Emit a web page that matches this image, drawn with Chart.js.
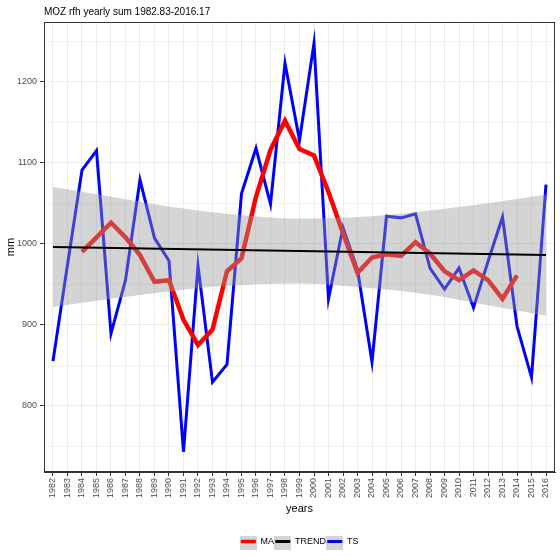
<!DOCTYPE html>
<html>
<head>
<meta charset="utf-8">
<script src="https://cdn.jsdelivr.net/npm/chart.js@4/dist/chart.umd.min.js"></script>
<style>
  html, body { margin: 0; padding: 0; background: #ffffff; }
  #wrap { width: 560px; height: 560px; }
</style>
</head>
<body>
<div id="wrap"><canvas id="myChart" width="560" height="560"></canvas></div>
<script>
var years = [1982,1983,1984,1985,1986,1987,1988,1989,1990,1991,1992,1993,1994,1995,1996,1997,1998,1999,2000,
             2001,2002,2003,2004,2005,2006,2007,2008,2009,2010,2011,2012,2013,2014,2015,2016]
// yearly sums (TS)
var tsValues = [855,974,1091,1115,889,955,1079,1007,979,743,973,829,851,1062,1118,1049,1223,1128,1248,
                932,1020,968,854,1034,1032,1037,970,944,970,921,978,1033,898,835,1073]
// moving average (MA), 1984..2014
var maYears = [1984,1985,1986,1987,1988,1989,1990,1991,1992,1993,1994,1995,1996,1997,1998,1999,2000,
               2001,2002,2003,2004,2005,2006,2007,2008,2009,2010,2011,2012,2013,2014]
var maValues = [990,1008,1026,1008,986,953,955,906,875,894,966,982,1058,1116,1152,1117,1109,
                1064,1013,964,983,987,985,1002,988,966,955,967,955,932,961]
// linear trend
var trendYears = [1982,2016]
var trendValues = [996,986]
// confidence band of the trend
var bandYears = [1982,1986,1990,1994,1999,2004,2008,2012,2016]
var bandUpper = [1070,1058,1046,1037,1031,1034,1041,1050,1061]
var bandLower = [922,932,941,948,951,945,937,924,911]

var fontFam = '"Liberation Sans", Arial, sans-serif'

function pts(xs, ys){
    return xs.map(function(x, i){ return {x: x, y: ys[i]} })
}

function makeKey(color, w){
    var c = document.createElement('canvas')
    c.width = 17; c.height = 17
    var g = c.getContext('2d')
    g.fillStyle = '#d4d4d4'
    g.fillRect(0, 0, 17, 17)
    g.strokeStyle = color
    g.lineWidth = w
    g.beginPath()
    g.moveTo(1, 8.5)
    g.lineTo(16, 8.5)
    g.stroke()
    return c
}

var titlePlugin = {
    id: 'panelTitle',
    afterDraw: function(chart){
        var ctx = chart.ctx, a = chart.chartArea
        ctx.save()
        ctx.strokeStyle = '#333333'
        ctx.lineWidth = 1
        ctx.strokeRect(Math.round(a.left) + 0.5, Math.round(a.top) + 0.5,
                       Math.round(a.right - a.left) - 1, Math.round(a.bottom - a.top) - 1)
        ctx.fillStyle = '#000000'
        ctx.font = '10px ' + fontFam
        ctx.textBaseline = 'alphabetic'
        ctx.fillText('MOZ rfh yearly sum 1982.83-2016.17', a.left, 14.5)
        ctx.restore()
    }
}

function setChart(){
    var ctx = document.getElementById('myChart')
    var myChart = new Chart(ctx, {
        type: 'line',
        data: {
            datasets: [{
                label: 'TS',
                data: pts(years, tsValues),
                borderColor: '#0000ff',
                borderWidth: 3,
                pointRadius: 0,
                tension: 0,
                order: 5,
            }, {
                label: 'MA',
                data: pts(maYears, maValues),
                borderColor: '#ff0000',
                borderWidth: 4.5,
                pointRadius: 0,
                tension: 0,
                order: 4,
            }, {
                label: 'bandLow',
                data: pts(bandYears, bandLower),
                borderWidth: 0,
                borderColor: 'rgba(0,0,0,0)',
                pointRadius: 0,
                cubicInterpolationMode: 'monotone',
                fill: false,
                order: 3,
            }, {
                label: 'bandHigh',
                data: pts(bandYears, bandUpper),
                borderWidth: 0,
                borderColor: 'rgba(0,0,0,0)',
                backgroundColor: 'rgba(153,153,153,0.42)',
                pointRadius: 0,
                cubicInterpolationMode: 'monotone',
                fill: '-1',
                order: 2,
            }, {
                label: 'TREND',
                data: pts(trendYears, trendValues),
                borderColor: '#000000',
                borderWidth: 2,
                pointRadius: 0,
                order: 1,
            }],
        },
        options: {
            responsive: false,
            animation: false,
            layout: { padding: { left: 0, right: 5, top: 22, bottom: 4 } },
            plugins: {
                title: { display: false },
                tooltip: { enabled: false },
                legend: {
                    position: 'bottom',
                    align: 'center',
                    fullSize: false,
                    labels: {
                        usePointStyle: true,
                        pointStyleWidth: 15.5,
                        padding: 1,
                        color: '#000000',
                        font: { family: fontFam, size: 9 },
                        generateLabels: function(chart){
                            return [
                                { text: 'MA', pointStyle: makeKey('#ff0000', 3.5), datasetIndex: 1, lineWidth: 0, fontColor: '#000' },
                                { text: 'TREND', pointStyle: makeKey('#000000', 3), datasetIndex: 4, lineWidth: 0, fontColor: '#000' },
                                { text: 'TS', pointStyle: makeKey('#0000ff', 3), datasetIndex: 0, lineWidth: 0, fontColor: '#000' },
                            ]
                        }
                    }
                }
            },
            scales: {
                x: {
                    type: 'linear',
                    min: 1981.38,
                    max: 2016.62,
                    afterFit: function(scale){ scale.height = 64 },
                    ticks: {
                        stepSize: 1,
                        includeBounds: false,
                        autoSkip: false,
                        maxRotation: 90,
                        minRotation: 90,
                        padding: 2,
                        color: '#4d4d4d',
                        font: { family: fontFam, size: 9 },
                        callback: function(v){ return String(v) }
                    },
                    grid: {
                        color: '#ebebeb',
                        lineWidth: 1,
                        tickLength: 4,
                        tickColor: '#333333',
                        tickWidth: 1,
                    },
                    border: { display: true, color: '#333333', width: 1 },
                    title: {
                        display: true,
                        text: 'years',
                        color: '#000000',
                        font: { family: fontFam, size: 11 },
                        padding: { top: 4, bottom: 20 }
                    }
                },
                y: {
                    min: 718,
                    max: 1274,
                    afterFit: function(scale){ scale.width = 44 },
                    ticks: {
                        stepSize: 50,
                        includeBounds: false,
                        padding: 3,
                        color: '#4d4d4d',
                        font: { family: fontFam, size: 9 },
                        callback: function(v){ return v % 100 === 0 ? String(v) : '' }
                    },
                    grid: {
                        color: '#ebebeb',
                        lineWidth: function(c){ return c.tick && c.tick.value % 100 === 0 ? 1 : 0.6 },
                        tickLength: 4,
                        tickColor: function(c){ return c.tick && c.tick.value % 100 === 0 ? '#333333' : 'rgba(0,0,0,0)' },
                        tickWidth: 1,
                    },
                    border: { display: true, color: '#333333', width: 1 },
                    title: {
                        display: true,
                        text: 'mm',
                        color: '#000000',
                        font: { family: fontFam, size: 11 },
                        padding: { top: 4, bottom: 4 }
                    }
                }
            }
        },
        plugins: [titlePlugin]
    })
}

setChart()
</script>
</body>
</html>
